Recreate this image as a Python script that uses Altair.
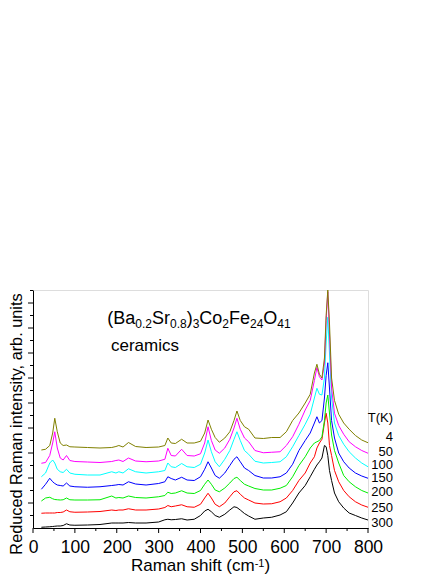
import altair as alt
import pandas as pd

# ---------------- data ----------------
shift = [20, 30, 40, 47, 52, 58, 65, 72, 80, 88, 100, 130, 160, 188, 198, 205, 215, 228,
         245, 270, 300, 315, 322, 330, 340, 355, 368, 385, 400, 410, 418, 426, 435, 445,
         458, 470, 480, 487, 495, 505, 515, 530, 550, 570, 590, 605, 620, 635, 650, 662,
         672, 678, 684, 690, 696, 700, 704, 708, 713, 720, 730, 742, 755, 770, 785, 800]

t4 = [3.12, 3.15, 3.3, 3.8, 4.39, 3.85, 3.4, 3.3, 3.32, 3.25, 3.24, 3.22, 3.2, 3.22, 3.26, 3.3, 3.24, 3.42,
      3.26, 3.22, 3.24, 3.3, 3.6, 3.4, 3.38, 3.55, 3.4, 3.4, 3.47, 3.8, 4.32, 3.95, 3.62, 3.43,
      3.6, 3.85, 4.3, 4.68, 4.3, 4.05, 3.95, 3.6, 3.58, 3.62, 3.62, 3.85, 4.3, 4.6, 5.0, 5.35,
      6.2, 6.55, 6.15, 6.0, 6.8, 8.5, 9.52, 8.2, 6.0, 5.1, 4.55, 4.2, 3.95, 3.7, 3.52, 3.41]
t50 = [2.59, 2.62, 2.9, 3.4, 3.85, 3.2, 2.8, 2.72, 2.9, 2.7, 2.66, 2.64, 2.62, 2.66, 2.7, 2.72, 2.66, 2.8,
       2.68, 2.65, 2.68, 2.75, 3.19, 2.9, 2.88, 3.15, 2.9, 2.88, 2.97, 3.4, 4.05, 3.5, 3.12, 2.99,
       3.2, 3.55, 4.0, 4.39, 3.95, 3.6, 3.45, 3.1, 3.01, 3.03, 3.05, 3.3, 3.65, 4.15, 4.72, 5.1,
       5.9, 6.42, 6.05, 5.92, 6.6, 8.3, 9.45, 7.8, 5.6, 4.59, 4.1, 3.75, 3.45, 3.25, 3.1, 2.99]
t100 = [2.05, 2.2, 2.6, 2.72, 2.6, 2.35, 2.25, 2.22, 2.35, 2.2, 2.15, 2.12, 2.12, 2.25, 2.2, 2.25, 2.2, 2.37,
        2.25, 2.2, 2.25, 2.3, 2.6, 2.45, 2.42, 2.58, 2.45, 2.42, 2.55, 3.0, 3.52, 3.05, 2.65, 2.45,
        2.75, 3.1, 3.55, 3.85, 3.5, 3.1, 2.95, 2.67, 2.6, 2.62, 2.65, 2.85, 3.25, 3.7, 4.15, 4.55,
        5.2, 5.59, 5.35, 5.32, 6.0, 7.4, 8.43, 7.0, 5.2, 4.2, 3.7, 3.35, 3.05, 2.8, 2.6, 2.45]
t150 = [1.55, 1.75, 1.99, 1.85, 1.78, 1.72, 1.7, 1.68, 1.8, 1.68, 1.65, 1.63, 1.65, 1.7, 1.72, 1.74, 1.72, 1.85,
        1.76, 1.72, 1.78, 1.85, 2.05, 1.98, 1.92, 2.03, 1.92, 1.9, 2.05, 2.35, 2.65, 2.4, 2.1, 1.99,
        2.2, 2.5, 2.75, 2.85, 2.65, 2.4, 2.3, 2.1, 2.0, 2.0, 2.05, 2.2, 2.55, 3.1, 3.5, 3.8,
        4.2, 4.45, 4.2, 4.3, 5.2, 6.1, 6.61, 5.6, 4.3, 3.6, 3.0, 2.65, 2.4, 2.2, 2.08, 1.99]
t200 = [1.08, 1.2, 1.23, 1.17, 1.14, 1.13, 1.12, 1.13, 1.2, 1.13, 1.12, 1.12, 1.13, 1.28, 1.2, 1.22, 1.2, 1.28,
        1.22, 1.2, 1.25, 1.3, 1.43, 1.38, 1.4, 1.49, 1.4, 1.38, 1.5, 1.75, 1.92, 1.75, 1.52, 1.45,
        1.6, 1.8, 1.98, 2.03, 1.9, 1.75, 1.68, 1.58, 1.52, 1.52, 1.59, 1.7, 2.05, 2.5, 2.85, 3.2,
        3.4, 3.45, 3.5, 3.65, 4.3, 5.0, 5.32, 4.6, 3.72, 3.1, 2.6, 2.1, 1.85, 1.65, 1.5, 1.4]
t250 = [0.59, 0.6, 0.6, 0.6, 0.6, 0.62, 0.62, 0.64, 0.72, 0.65, 0.63, 0.64, 0.66, 0.72, 0.7, 0.72, 0.72, 0.77,
        0.72, 0.72, 0.76, 0.82, 0.9, 0.85, 0.88, 0.93, 0.85, 0.83, 0.95, 1.2, 1.39, 1.2, 0.95, 0.85,
        1.0, 1.25, 1.45, 1.49, 1.35, 1.2, 1.12, 1.0, 0.96, 0.97, 1.05, 1.2, 1.5, 1.9, 2.2, 2.6,
        2.85, 3.2, 3.4, 3.55, 4.2, 4.59, 4.2, 3.3, 2.9, 2.3, 1.85, 1.5, 1.25, 1.05, 0.92, 0.83]
t300 = [0.03, 0.04, 0.05, 0.06, 0.07, 0.08, 0.08, 0.1, 0.17, 0.12, 0.11, 0.12, 0.14, 0.2, 0.2, 0.2, 0.2, 0.22,
        0.2, 0.2, 0.24, 0.33, 0.35, 0.33, 0.34, 0.37, 0.32, 0.35, 0.5, 0.68, 0.75, 0.65, 0.5, 0.43,
        0.55, 0.72, 0.85, 0.82, 0.72, 0.58, 0.48, 0.35, 0.4, 0.43, 0.52, 0.65, 1.0, 1.4, 1.7, 2.05,
        2.35, 2.52, 2.65, 2.8, 3.3, 3.25, 2.9, 2.3, 1.9, 1.4, 1.05, 0.8, 0.6, 0.5, 0.4, 0.32]

temps = ["300", "250", "200", "150", "100", "50", "4"]          # drawing order
series = [t300, t250, t200, t150, t100, t50, t4]
colors = ["#000000", "#ff0000", "#00ee00", "#0000ff", "#00ffff", "#ff00ff", "#808000"]

label_text = ["T(K)", "4", "50", "100", "150", "200", "250", "300"]
label_level = [4.25, 3.49, 2.88, 2.35, 1.83, 1.28, 0.65, 0.05]

x_labels = list(range(0, 801, 100))
x_minor = list(range(50, 800, 100))
y_major = list(range(1, 10))
y_minor = [i + 0.5 for i in range(0, 10)]

FONT = "Liberation Sans, Arial, sans-serif"
W, H = 335, 238

# ---------------- helpers for rich text (sub/superscripts) ----------------
CW = {'(': .333, ')': .333, 'B': .667, 'a': .556, 'S': .667, 'r': .333, 'C': .722, 'o': .556,
      'F': .611, 'e': .556, 'O': .778, '.': .278, 'R': .722, 'm': .833, 'n': .556, ' ': .278,
      's': .5, 'h': .556, 'i': .222, 'f': .278, 't': .278, 'c': .5, '-': .333}


def tw(s, fs):
    return sum(CW.get(ch, .556) for ch in s) * fs


def rich(segs, x0, base, small_base, fs, fs_small):
    out = []
    x = x0
    for txt, small in segs:
        f = fs_small if small else fs
        out.append((txt, x, small_base if small else base, f))
        x += tw(txt, f)
    return out


formula = [("(Ba", 0), ("0.2", 1), ("Sr", 0), ("0.8", 1), (")", 0), ("3", 1), ("Co", 0),
           ("2", 1), ("Fe", 0), ("24", 1), ("O", 0), ("41", 1)]
xtitle = [("Raman shift (cm", 0), ("-1", 1), (")", 0)]

pieces = rich(formula, 74.3, 34, 38, 18, 12)
pieces += [("ceramics", 78, 60.7, 17)]
xt_w = tw("Raman shift (cm", 17) + tw("-1", 11) + tw(")", 17)
pieces += rich(xtitle, W / 2 - xt_w / 2, 280.5, 276.5, 17, 11)

# ---------------- chart ----------------
rows = []
for t, vals in zip(temps, series):
    for xv, yv in zip(shift, vals):
        rows.append({"shift": xv, "intensity": yv, "T": t})
df = pd.DataFrame(rows)

x_enc = alt.X("shift:Q",
              scale=alt.Scale(domain=[0, 800], nice=False, zero=False),
              axis=alt.Axis(values=x_labels, title=None, grid=False, ticks=False,
                            labelFontSize=17.5, labelFont=FONT, labelColor="black",
                            labelPadding=10, labelOverlap=False, labelFlush=False,
                            domainColor="black"))
y_enc = alt.Y("intensity:Q",
              scale=alt.Scale(domain=[0, 9.52], nice=False, zero=False),
              axis=alt.Axis(labels=False, grid=False, ticks=False,
                            title="Reduced Raman intensity, arb. units",
                            titleFont=FONT, titleFontSize=16.3, titleFontWeight="normal",
                            titleColor="black", titleAngle=270, titleAlign="center",
                            titleBaseline="alphabetic", titleX=-12, titleY=133.5,
                            domainColor="black"))

layers = []
for i, (t, c) in enumerate(zip(temps, colors)):
    sub = alt.Chart(df[df["T"] == t]).mark_line(color=c, strokeWidth=1, clip=True)
    if i == 0:
        sub = sub.encode(x=x_enc, y=y_enc)
    else:
        sub = sub.encode(x="shift:Q", y="intensity:Q")
    layers.append(sub)


# axis ticks (major and minor), placed through the scales
def yticks(vals, size):
    return alt.Chart(pd.DataFrame({"v": vals})).mark_rule(color="black", strokeWidth=1).encode(
        y="v:Q", x=alt.value(-size), x2=alt.value(0))


def xticks(vals, size):
    return alt.Chart(pd.DataFrame({"v": vals})).mark_rule(color="black", strokeWidth=1).encode(
        x="v:Q", y=alt.value(H), y2=alt.value(H + size))


layers += [yticks(y_major, 5), yticks(y_minor, 3), xticks(x_labels, 5), xticks(x_minor, 3)]

lab_df = pd.DataFrame({"text": label_text, "lvl": label_level, "xpos": [800] * len(label_text)})
labels = alt.Chart(lab_df).mark_text(align="right", baseline="alphabetic", fontSize=13,
                                     font=FONT, color="black", dx=25).encode(
    x="xpos:Q", y="lvl:Q", text="text:N")
layers.append(labels)

for txt, px, py, fs in pieces:
    layers.append(
        alt.Chart(alt.Data(values=[{"t": txt}])).mark_text(
            align="left", baseline="alphabetic", fontSize=fs, font=FONT, color="black"
        ).encode(x=alt.value(px), y=alt.value(py), text="t:N")
    )

chart = alt.layer(*layers).properties(
    width=W, height=H,
    autosize=alt.AutoSizeParams(type="none"),
    padding={"left": 25, "top": 282, "right": 70, "bottom": 50},
).configure_view(stroke="black", strokeWidth=1).configure(background="white")

chart.save("out.html", embed_options={"renderer": "svg", "actions": False})
